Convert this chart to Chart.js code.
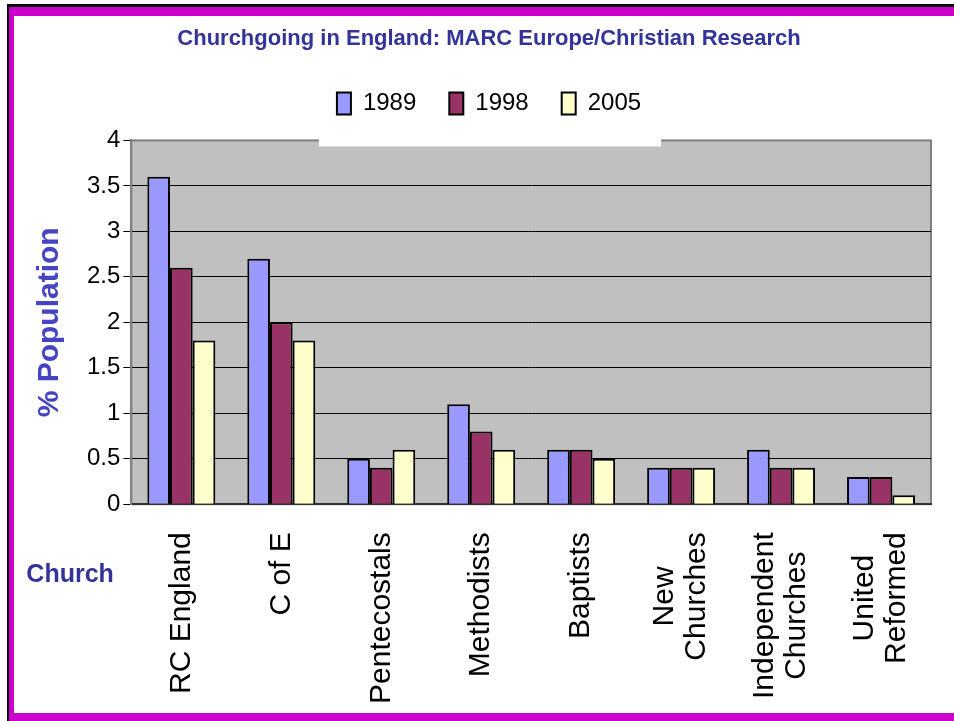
<!DOCTYPE html>
<html>
<head>
<meta charset="utf-8">
<script src="https://cdn.jsdelivr.net/npm/chart.js@4.4.0/dist/chart.umd.min.js"></script>
<style>
  html, body { margin: 0; padding: 0; background: #fff; }
  #wrap { width: 954px; height: 721px; }
</style>
</head>
<body>
<div id="wrap"><canvas id="barChart" width="954" height="721"></canvas></div>
<script>
// data
const churches = ["RC England", "C of E", "Pentecostals", "Methodists", "Baptists",
  ["New", "Churches"], ["Independent", "Churches"], ["United", "Reformed"]];
const years = ["1989", "1998", "2005"];
const values1989 = [3.6, 2.7, 0.5, 1.1, 0.6, 0.4, 0.6, 0.3];
const values1998 = [2.6, 2.0, 0.4, 0.8, 0.6, 0.4, 0.4, 0.3];
const values2005 = [1.8, 1.8, 0.6, 0.6, 0.5, 0.4, 0.4, 0.1];
const yMax = 4;
const yStep = 0.5;

const barColors = ["#9999ff", "#993366", "#ffffcc"];
const SANS = '"Liberation Sans", Arial, sans-serif';

// page frame, grey plot area and the white legend patch
const frame = {
  id: "frame",
  beforeDraw(chart) {
    const ctx = chart.ctx;
    const a = chart.chartArea;
    const w = chart.width, h = chart.height;
    ctx.save();
    ctx.fillStyle = "#fff";
    ctx.fillRect(0, 0, w, h);
    ctx.fillStyle = "#000";
    ctx.fillRect(7, 4, w - 7, 3);
    ctx.fillRect(7, 4, 2, h - 4);
    ctx.fillStyle = "#cc00cc";
    ctx.fillRect(9, 7, w - 9, 9);
    ctx.fillRect(9, 7, 5, h - 7);
    ctx.fillRect(9, 713, w - 9, 8);

    ctx.fillStyle = "#c0c0c0";
    ctx.fillRect(a.left, a.top, a.right - a.left, a.bottom - a.top);
    ctx.strokeStyle = "#808080";
    ctx.lineWidth = 2;
    ctx.strokeRect(a.left, a.top, a.right - a.left, a.bottom - a.top);

    const hb = chart.legend.legendHitBoxes;
    if (hb && hb.length) {
      const last = hb[hb.length - 1];
      const x0 = hb[0].left - 18;
      const x1 = last.left + last.width + 20;
      ctx.fillStyle = "#fff";
      ctx.fillRect(x0, chart.legend.top, x1 - x0, a.top + 6 - chart.legend.top);
    }
    ctx.restore();
  }
};

// a bit more room under the legend
const legendGap = {
  id: "legendGap",
  beforeInit(chart) {
    const fit = chart.legend.fit;
    chart.legend.fit = function () {
      fit.call(this);
      this.height += 15;
    };
  }
};

// category labels, rotated, lines centred on each other
const xLabels = {
  id: "xLabels",
  afterDraw(chart) {
    const scale = chart.scales.x;
    const ctx = chart.ctx;
    const lh = 32;
    ctx.save();
    ctx.font = "30px " + SANS;
    ctx.fillStyle = "#000";
    ctx.textBaseline = "middle";
    ctx.textAlign = "center";
    scale.ticks.forEach((t, i) => {
      const lines = [].concat(scale.getLabels()[i]);
      const wMax = Math.max(...lines.map(s => ctx.measureText(s).width));
      ctx.save();
      ctx.translate(scale.getPixelForTick(i), scale.top + 28);
      ctx.rotate(-Math.PI / 2);
      lines.forEach((s, k) => {
        ctx.fillText(s, -wMax / 2, (k - (lines.length - 1) / 2) * lh);
      });
      ctx.restore();
    });

    const a = chart.chartArea;
    ctx.font = "bold 25px " + SANS;
    ctx.fillStyle = "#333399";
    ctx.textAlign = "left";
    ctx.fillText("Church", a.left - 105, a.bottom + 71);
    ctx.restore();
  }
};

const ctx = document.getElementById("barChart").getContext("2d");
new Chart(ctx, {
  type: "bar",
  data: {
    labels: churches,
    datasets: [
      { label: years[0], data: values1989, backgroundColor: barColors[0] },
      { label: years[1], data: values1998, backgroundColor: barColors[1] },
      { label: years[2], data: values2005, backgroundColor: barColors[2] }
    ].map(d => Object.assign(d, {
      borderColor: "#000",
      borderWidth: 2,
      barPercentage: 1,
      categoryPercentage: 0.68
    }))
  },
  options: {
    responsive: false,
    animation: false,
    layout: { padding: { left: 47, right: 23, top: 0, bottom: 45 } },
    plugins: {
      title: {
        display: true,
        text: "Churchgoing in England: MARC Europe/Christian Research",
        color: "#333399",
        font: { family: SANS, size: 22, weight: "bold" },
        padding: { top: 26, bottom: 6 }
      },
      legend: {
        position: "top",
        labels: {
          boxWidth: 14,
          boxHeight: 22,
          padding: 33,
          color: "#000",
          font: { family: SANS, size: 24 }
        }
      },
      tooltip: { enabled: false }
    },
    scales: {
      x: {
        grid: { display: false, drawTicks: false },
        border: { color: "#333", width: 2 },
        ticks: {
          color: "rgba(0,0,0,0)",
          font: { family: SANS, size: 30, lineHeight: 1.07 },
          padding: 0,
          minRotation: 90,
          maxRotation: 90,
          autoSkip: false
        }
      },
      y: {
        min: 0,
        max: yMax,
        ticks: {
          stepSize: yStep,
          color: "#000",
          padding: 3,
          font: { family: SANS, size: 24 },
          callback: v => String(Number(v))
        },
        grid: {
          color: c => (c.tick && c.tick.value === yMax) ? "rgba(0,0,0,0)" : "#000",
          tickColor: "#000",
          tickLength: 8,
          lineWidth: 1
        },
        border: { color: "#808080", width: 2 },
        title: {
          display: true,
          text: "% Population",
          color: "#4444c4",
          font: { family: SANS, size: 30, weight: "bold", lineHeight: 0.2 },
          padding: { top: 0, bottom: 31 }
        }
      }
    }
  },
  plugins: [frame, legendGap, xLabels]
});
</script>
</body>
</html>
